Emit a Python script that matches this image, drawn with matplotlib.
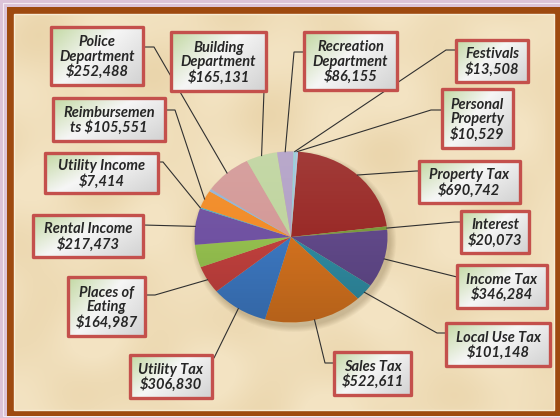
import matplotlib
matplotlib.use("Agg")
import matplotlib.pyplot as plt
import numpy as np
from matplotlib.patches import Rectangle, Circle
from matplotlib.colors import to_rgb

plt.rcParams['font.family'] = ['Lato', 'DejaVu Sans']

# slices in clockwise order, starting just right of 12 o'clock
categories = ["Property Tax", "Interest", "Income Tax", "Local Use Tax", "Sales Tax",
              "Utility Tax", "Places of Eating", "", "Rental Income", "Utility Income",
              "Reimbursements", "", "Police Department", "Building Department",
              "Recreation Department", "Festivals", "Personal Property"]
values = [690742, 20073, 346284, 101148, 522611,
          306830, 164987, 135000, 217473, 7414,
          105551, 15000, 252488, 165131,
          86155, 13508, 10529]

colors = ["#9a2b28", "#7a9a3c", "#604888", "#2f8aa0", "#d2711e",
          "#3c77c0", "#c0403d", "#94bf4e", "#7052a2", "#4bacc6",
          "#f28c28", "#95b3d7", "#d49a98", "#c0d5a0",
          "#b3a2c7", "#92cddc", "#a9c4e0"]

# how the names wrap inside the boxes
wrapped = {
    "Police Department": "Police\nDepartment",
    "Building Department": "Building\nDepartment",
    "Recreation Department": "Recreation\nDepartment",
    "Personal Property": "Personal\nProperty",
    "Places of Eating": "Places of\nEating",
    "Reimbursements": "Reimbursemen\nts",
}

# label boxes in pixels (x0, y0, x1, y1), y from the top
boxes = {
    "Police Department": (51, 27, 143, 85),
    "Building Department": (171, 32, 266, 91),
    "Recreation Department": (304, 32, 397, 90),
    "Festivals": (456, 40, 528, 82),
    "Reimbursements": (53, 98, 165, 141),
    "Personal Property": (442, 89, 513, 148),
    "Utility Income": (45, 153, 158, 193),
    "Property Tax": (419, 161, 520, 203),
    "Interest": (461, 211, 529, 253),
    "Rental Income": (33, 215, 143, 257),
    "Income Tax": (457, 265, 547, 308),
    "Places of Eating": (68, 277, 145, 336),
    "Local Use Tax": (446, 323, 550, 366),
    "Sales Tax": (334, 352, 411, 395),
    "Utility Tax": (130, 355, 212, 398),
}
# leader line points from the box toward the slice
leaders = {
    "Police Department": [(143, 47), (154, 47)],
    "Building Department": [(264, 91)],
    "Recreation Department": [(304, 52), (294, 52)],
    "Festivals": [(456, 50), (446, 50)],
    "Reimbursements": [(165, 110), (175, 110)],
    "Personal Property": [(442, 110), (431, 110)],
    "Utility Income": [(158, 162), (163, 162)],
    "Property Tax": [(419, 171), (416, 171)],
    "Interest": [(461, 222), (455, 222)],
    "Rental Income": [(143, 225)],
    "Income Tax": [(457, 277)],
    "Places of Eating": [(145, 295), (155, 295)],
    "Local Use Tax": [(446, 333), (437, 333)],
    "Sales Tax": [(334, 363), (325, 363)],
    "Utility Tax": [(212, 358), (214, 358)],
}

W, H = 560, 418
fig = plt.figure(figsize=(W / 100, H / 100), dpi=100)
fig.patch.set_facecolor("#dcc3d9")

# background, frame
bg = fig.add_axes([0, 0, 1, 1], zorder=0)
bg.set_xlim(0, W)
bg.set_ylim(H, 0)
bg.axis("off")
bg.add_patch(Rectangle((2.5, 2.5), W, H - 5, fill=False, ec="#f4eaf2", lw=0.8))
bg.add_patch(Rectangle((7, 7), W, 409, fc="#9e4a10", ec="none"))

# parchment with a soft mottle
yy, xx = np.mgrid[0:396, 0:540]
mottle = (np.sin(xx / 23.0 + yy / 41.0) + np.sin(yy / 17.0 - xx / 53.0)
          + np.sin((xx + 2 * yy) / 31.0) + np.sin((3 * xx - yy) / 47.0)) / 4
base = np.array(to_rgb("#f3e3c2"))
dark = np.array(to_rgb("#e9d3a8"))
k = np.clip(mottle * 0.6 + 0.3, 0, 1)[..., None]
paper = base + (dark - base) * k
bg.imshow(paper, extent=(14, 554, 410, 14), origin="upper", aspect="auto", zorder=1)
bg.add_patch(Rectangle((14, 14), 540, 396, fill=False, ec="#f8ecd6", lw=1.0, zorder=2))
bg.set_xlim(0, W)
bg.set_ylim(H, 0)

# pie, elliptical like the tilted Excel pie
cx, cy, rx, ry = 291, 237, 96.5, 85.5
ax = fig.add_axes([(cx - rx) / W, (H - cy - ry) / H, 2 * rx / W, 2 * ry / H], zorder=1)
for k in range(6):
    ax.add_patch(Circle((0.03, -0.05), 1.0 + 0.012 * k, fc="#6b5530",
                        alpha=0.05, ec="none", zorder=0, clip_on=False))
wedges, _ = ax.pie(values, colors=colors, startangle=85.8, counterclock=False,
                   wedgeprops=dict(linewidth=0, zorder=1))
ax.set_aspect("auto")
ax.set_xlim(-1, 1)
ax.set_ylim(-1, 1)
ax.axis("off")

# soft shading over the pie
sh = np.linspace(0, 1, 100)[:, None]
shade = np.zeros((100, 2, 4))
shade[..., :3] = np.where(sh[..., None] < 0.5, 1.0, 0.0)
shade[..., 3] = np.abs(sh - 0.5) * np.where(sh < 0.5, 0.16, 0.28)
im = ax.imshow(shade, extent=(-1, 1, -1, 1), origin="upper", aspect="auto", zorder=2)
im.set_clip_path(Circle((0, 0), 1, transform=ax.transData))

# overlay for labels and leaders
ov = fig.add_axes([0, 0, 1, 1], zorder=2)
ov.set_xlim(0, W)
ov.set_ylim(H, 0)
ov.axis("off")

to_ov = ax.transData + ov.transData.inverted()

# box gradient: green top-left -> white -> grey bottom-right
g = np.linspace(0, 1, 40)
u, v = np.meshgrid(g, g)
t = (u * 0.6 + v * 0.4)
c0, c1, c2 = np.array(to_rgb("#c3d9a3")), np.array(to_rgb("#f6f6f6")), np.array(to_rgb("#d2d2d2"))
grad = np.where((t < 0.45)[..., None],
                c0 + (c1 - c0) * (t / 0.45)[..., None],
                c1 + (c2 - c1) * ((t - 0.45) / 0.55)[..., None])

for w, name, val in zip(wedges, categories, values):
    if not name:
        continue
    a = np.deg2rad((w.theta1 + w.theta2) / 2)
    ex, ey = to_ov.transform((np.cos(a), np.sin(a)))
    pts = leaders[name] + [(ex, ey)]
    ov.plot([p[0] for p in pts], [p[1] for p in pts], color="#303030", lw=0.8,
            solid_joinstyle="miter", zorder=1)

    x0, y0, x1, y1 = boxes[name]
    ov.add_patch(Rectangle((x0 + 2, y0 + 2), x1 - x0, y1 - y0, fc="#7a6a50",
                           alpha=0.25, ec="none", zorder=2))
    rect = Rectangle((x0, y0), x1 - x0, y1 - y0, fc="none", ec="#c4504c", lw=2.4,
                     joinstyle="round", zorder=4)
    gi = ov.imshow(grad, extent=(x0, x1, y1, y0), origin="upper", aspect="auto", zorder=3)
    gi.set_clip_path(Rectangle((x0, y0), x1 - x0, y1 - y0, transform=ov.transData))
    ov.add_patch(rect)

    label = wrapped.get(name, name)
    sep = " " if name == "Reimbursements" else "\n"
    ov.text((x0 + x1) / 2, (y0 + y1) / 2 + 1, f"{label}{sep}${val:,}", ha="center",
            va="center", fontsize=10.5, fontweight="bold", fontstyle="italic",
            color="#262626", linespacing=1.05, zorder=5)

ov.set_xlim(0, W)
ov.set_ylim(H, 0)

fig.savefig("out.png", dpi=100, facecolor=fig.get_facecolor())
